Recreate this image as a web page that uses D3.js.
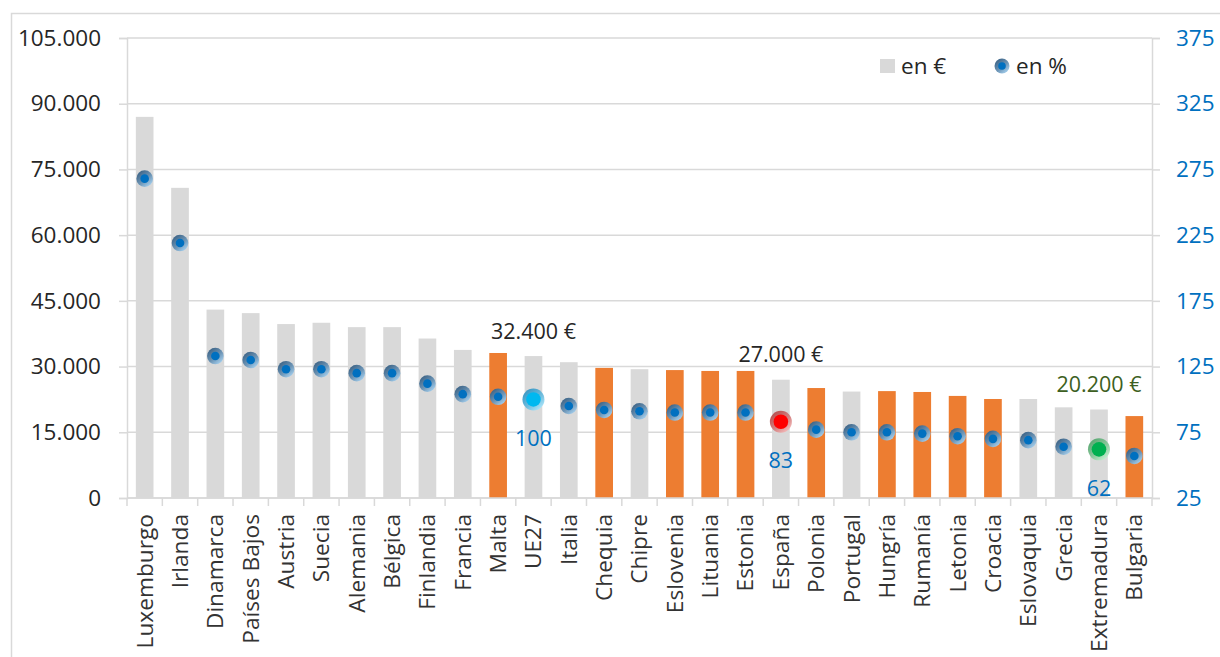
<!DOCTYPE html>
<html>
<head>
<meta charset="utf-8">
<script src="https://cdn.jsdelivr.net/npm/d3@7"></script>
<style>
  html, body { margin: 0; padding: 0; background: #fff; }
  svg text { font-family: "Open Sans", "Noto Sans", sans-serif; }
</style>
</head>
<body>
<svg id="chart" width="1220" height="657"></svg>
<script>
const categories = ["Luxemburgo","Irlanda","Dinamarca","Países Bajos","Austria","Suecia","Alemania","Bélgica","Finlandia","Francia","Malta","UE27","Italia","Chequia","Chipre","Eslovenia","Lituania","Estonia","España","Polonia","Portugal","Hungría","Rumanía","Letonia","Croacia","Eslovaquia","Grecia","Extremadura","Bulgaria"];
const valuesEur = [87000,70800,43000,42200,39700,40000,39000,39000,36400,33800,33100,32400,31000,29700,29400,29200,29000,29000,27000,25100,24300,24400,24200,23300,22600,22600,20700,20200,18700];
const valuesPct = [268,219,133,130,123,123,120,120,112,104,102,100,95,92,91,90,90,90,83,77,75,75,74,72,70,69,64,62,57];
const orangeCats = ["Malta","Chequia","Eslovenia","Lituania","Estonia","Polonia","Hungría","Rumanía","Letonia","Croacia","Bulgaria"];
const leftTicks = [0,15000,30000,45000,60000,75000,90000,105000];
const rightTicks = [25,75,125,175,225,275,325,375];
const highlights = [
  {cat:"UE27", eur:"32.400 €", pct:"100", fill:"#00B8F0", ring:["#3a98c4","#b0e8fc"], eurColor:"#262626"},
  {cat:"España", eur:"27.000 €", pct:"83", fill:"#FF0000", ring:["#b85050","#f6c0c0"], eurColor:"#262626"},
  {cat:"Extremadura", eur:"20.200 €", pct:"62", fill:"#00B050", ring:["#5aa872","#c8f2d4"], eurColor:"#3D5F22"}
];
const legendLabels = ["en €","en %"];

const svg = d3.select("#chart");
const data = categories.map((c,i)=>({cat:c, eur:valuesEur[i], pct:valuesPct[i]}));

const pLeft = 127, pRight = 1152, pTop = 38, pBottom = 498;
const x = d3.scaleBand().domain(categories).range([pLeft,pRight]).paddingInner(0.5).paddingOuter(0.25);
const yL = d3.scaleLinear().domain([0,105000]).range([pBottom,pTop]);
const yR = d3.scaleLinear().domain([25,375]).range([pBottom,pTop]);

const loc = d3.formatLocale({decimal:",", thousands:".", grouping:[3], currency:["","€"]});
const fmt = loc.format(",d");

// defs: gradients
const defs = svg.append("defs");
function lg(id, c1, c2){
  const g = defs.append("linearGradient").attr("id",id).attr("x1","0.15").attr("y1","0.1").attr("x2","0.85").attr("y2","0.95");
  g.append("stop").attr("offset","0%").attr("stop-color",c1);
  g.append("stop").attr("offset","55%").attr("stop-color",d3.interpolateRgb(c1,c2)(0.45));
  g.append("stop").attr("offset","100%").attr("stop-color",c2);
}
lg("ringBlue","#3d6487","#a9d4f2");
highlights.forEach((h,i)=>lg("ringH"+i,h.ring[0],h.ring[1]));

// outer border
svg.append("rect").attr("x",11.5).attr("y",13.5).attr("width",1240).attr("height",700)
  .attr("fill","none").attr("stroke","#d9d9d9").attr("stroke-width",1.5);

// gridlines
svg.append("g").selectAll("line").data(leftTicks).join("line")
  .attr("x1",pLeft).attr("x2",pRight).attr("y1",d=>yL(d)).attr("y2",d=>yL(d))
  .attr("stroke","#d9d9d9").attr("stroke-width",1.5);

// left axis
const gL = svg.append("g").attr("transform",`translate(${pLeft},0)`)
  .call(d3.axisLeft(yL).tickValues(leftTicks).tickFormat(fmt).tickSize(8).tickPadding(18));
gL.select(".domain").attr("stroke","#d9d9d9").attr("stroke-width",1.5);
gL.selectAll(".tick line").attr("stroke","#d9d9d9").attr("stroke-width",1.5);
gL.selectAll(".tick text").attr("fill","#262626").style("font-size","22.5px").style("font-family","'Open Sans'");

// right axis
const gR = svg.append("g").attr("transform",`translate(${pRight},0)`)
  .call(d3.axisRight(yR).tickValues(rightTicks).tickSize(8).tickPadding(16));
gR.select(".domain").attr("stroke","#d9d9d9").attr("stroke-width",1.5);
gR.selectAll(".tick line").attr("stroke","#d9d9d9").attr("stroke-width",1.5);
gR.selectAll(".tick text").attr("fill","#0070C0").style("font-size","22.5px").style("font-family","'Open Sans'");

// bars
svg.append("g").selectAll("rect").data(data).join("rect")
  .attr("x",d=>x(d.cat)).attr("width",x.bandwidth())
  .attr("y",d=>yL(d.eur)).attr("height",d=>yL(0)-yL(d.eur))
  .attr("fill",d=>orangeCats.includes(d.cat)?"#ED7D31":"#D9D9D9");

// x axis
const bounds = d3.range(categories.length+1).map(i=>pLeft + i*(pRight-pLeft)/categories.length);
const gX = svg.append("g");
gX.append("line").attr("x1",pLeft).attr("x2",pRight).attr("y1",pBottom).attr("y2",pBottom)
  .attr("stroke","#d9d9d9").attr("stroke-width",1.5);
gX.selectAll("line.t").data(bounds).join("line").attr("class","t")
  .attr("x1",d=>d).attr("x2",d=>d).attr("y1",pBottom).attr("y2",pBottom+8)
  .attr("stroke","#d9d9d9").attr("stroke-width",1.5);
gX.selectAll("text").data(categories).join("text")
  .attr("transform",d=>`translate(${x(d)+x.bandwidth()/2},${pBottom+16}) rotate(-90)`)
  .attr("text-anchor","end").attr("dy","0.35em")
  .attr("fill","#333").style("font-size","22.7px").text(d=>d);

// markers
const hiCats = highlights.map(h=>h.cat);
const mk = svg.append("g");
data.filter(d=>!hiCats.includes(d.cat)).forEach(d=>{
  const cx = x(d.cat)+x.bandwidth()/2, cy = yR(d.pct);
  mk.append("circle").attr("cx",cx).attr("cy",cy).attr("r",8.3).attr("fill","url(#ringBlue)");
  mk.append("circle").attr("cx",cx).attr("cy",cy).attr("r",4.3).attr("fill","#0070C0");
});
highlights.forEach((h,i)=>{
  const d = data.find(e=>e.cat===h.cat);
  const cx = x(d.cat)+x.bandwidth()/2, cy = yR(d.pct);
  mk.append("circle").attr("cx",cx).attr("cy",cy).attr("r",11).attr("fill",`url(#ringH${i})`);
  mk.append("circle").attr("cx",cx).attr("cy",cy).attr("r",7.3).attr("fill",h.fill);
  svg.append("text").attr("x",cx).attr("y",yL(d.eur)-25).attr("dy","0.35em")
    .attr("text-anchor","middle").attr("fill",h.eurColor).style("font-size","21.5px").text(h.eur);
  svg.append("text").attr("x",cx).attr("y",cy+39).attr("dy","0.35em")
    .attr("text-anchor","middle").attr("fill","#0070C0").style("font-size","21.5px").text(h.pct);
});

// legend
const lgG = svg.append("g");
lgG.append("rect").attr("x",880).attr("y",59).attr("width",15).attr("height",14).attr("fill","#D9D9D9");
lgG.append("text").attr("x",901).attr("y",66).attr("dy","0.35em").attr("fill","#262626").style("font-size","22.5px").text(legendLabels[0]);
lgG.append("circle").attr("cx",1002).attr("cy",66).attr("r",7.5).attr("fill","url(#ringBlue)");
lgG.append("circle").attr("cx",1002).attr("cy",66).attr("r",3.8).attr("fill","#0070C0");
lgG.append("text").attr("x",1016).attr("y",66).attr("dy","0.35em").attr("fill","#262626").style("font-size","22.5px").text(legendLabels[1]);
</script>
</body>
</html>
